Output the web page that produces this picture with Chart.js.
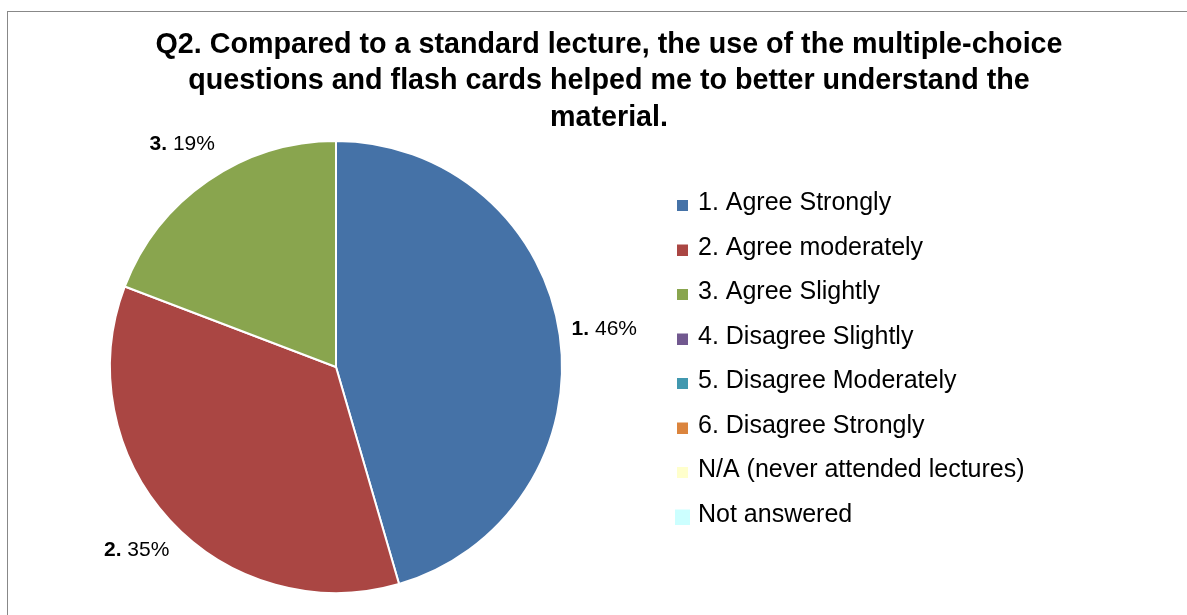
<!DOCTYPE html>
<html>
<head>
<meta charset="utf-8">
<script src="https://cdn.jsdelivr.net/npm/chart.js@4.4.0/dist/chart.umd.min.js"></script>
<style>
  html, body { margin: 0; padding: 0; background: #fff; overflow: hidden; width: 1187px; height: 615px; }
  #frame { position: absolute; left: 7px; top: 11px; width: 1400px; height: 800px; border-left: 1px solid #888; border-top: 1px solid #888; }
  #c { position: absolute; left: 0; top: 0; }
</style>
</head>
<body>
<div id="frame"></div>
<canvas id="c" width="1206" height="615"></canvas>
<script>
// ---- data ----
const titleLines = [
  'Q2. Compared to a standard lecture, the use of the multiple-choice',
  'questions and flash cards helped me to better understand the',
  'material.'
];
const categories = [
  '1. Agree Strongly',
  '2. Agree moderately',
  '3. Agree Slightly',
  '4. Disagree Slightly',
  '5. Disagree Moderately',
  '6. Disagree Strongly',
  'N/A (never attended lectures)',
  'Not answered'
];
const values = [45.5, 35.3, 19.2, 0, 0, 0, 0, 0];

// ---- styles ----
const colors = ['#4572A7', '#AA4643', '#89A54E', '#71588F', '#4198AF', '#DB843D', '#FFFFCC', '#CCFFFF'];
const legendBoxSizes = [11, 11, 11, 11, 11, 11, 11, 15];
const FONT = "'Liberation Sans', Arial, sans-serif";
const LEGEND_FONT_SIZE = 25;

function makeBox(color, size) {
  const c = document.createElement('canvas');
  c.width = size; c.height = size + 4;
  const g = c.getContext('2d');
  g.fillStyle = color;
  g.fillRect(0, 4, size, size);
  return c;
}
const boxImages = colors.map((col, i) => makeBox(col, legendBoxSizes[i]));

// spacer box to the right of the legend
const rightSpacer = {
  id: 'rightSpacer',
  beforeInit(chart) {
    const box = {
      position: 'right', weight: 2000, fullSize: false, options: { display: false },
      left: 0, top: 0, right: 0, bottom: 0, width: 0, height: 0,
      isHorizontal() { return false; },
      update(maxWidth, maxHeight) {
        const ctx = chart.ctx;
        ctx.save();
        ctx.font = LEGEND_FONT_SIZE + 'px ' + FONT;
        const w = Math.max(...categories.map(t => ctx.measureText(t).width));
        ctx.restore();
        this.width = Math.max(0, 498 - w);
        this.height = maxHeight;
      },
      draw() {}
    };
    Chart.layouts.addBox(chart, box);
  }
};

const sliceLabels = {
  id: 'sliceLabels',
  afterDatasetsDraw(chart) {
    const ctx = chart.ctx;
    const meta = chart.getDatasetMeta(0);
    const total = values.reduce((a, b) => a + b, 0);
    meta.data.forEach((arc, i) => {
      const v = values[i];
      if (!v) return;
      const p = arc.getProps(['x', 'y', 'startAngle', 'endAngle', 'outerRadius'], true);
      const mid = (p.startAngle + p.endAngle) / 2;
      const r = p.outerRadius + 45;
      const cx = p.x + Math.cos(mid) * r;
      const cy = p.y + Math.sin(mid) * r;
      const boldPart = categories[i].split(' ')[0];
      const regPart = ' ' + Math.round(v / total * 100) + '%';
      ctx.save();
      ctx.textBaseline = 'middle';
      ctx.fillStyle = '#000';
      ctx.font = 'bold 21px ' + FONT;
      const wb = ctx.measureText(boldPart).width;
      ctx.font = '21px ' + FONT;
      const wr = ctx.measureText(regPart).width;
      const x0 = cx - (wb + wr) / 2;
      ctx.font = 'bold 21px ' + FONT;
      ctx.textAlign = 'left';
      ctx.fillText(boldPart, x0, cy);
      ctx.font = '21px ' + FONT;
      ctx.fillText(regPart, x0 + wb, cy);
      ctx.restore();
    });
  }
};

const baseGen = Chart.controllers.doughnut.overrides.plugins.legend.labels.generateLabels;

new Chart(document.getElementById('c'), {
  type: 'pie',
  data: {
    labels: categories,
    datasets: [{
      data: values,
      backgroundColor: colors,
      borderColor: '#fff',
      borderWidth: 2,
      hoverBorderWidth: 2,
      hoverOffset: 0,
      offset: 0
    }]
  },
  options: {
    responsive: false,
    animation: false,
    events: [],
    layout: { padding: { left: 12, right: 0, top: 0, bottom: 21 } },
    plugins: {
      title: {
        display: true,
        text: titleLines,
        color: '#000',
        font: { family: FONT, size: 28.7, weight: 'bold', lineHeight: 36.5 / 28.7 },
        padding: { top: 26.75, bottom: 3.75 }
      },
      legend: {
        display: true,
        position: 'right',
        fullSize: false,
        align: 'start',
        title: { display: true, text: ' ', font: { size: 10, lineHeight: 1 }, padding: { top: 21.5, bottom: 0 } },
        labels: {
          color: '#000',
          font: { family: FONT, size: LEGEND_FONT_SIZE },
          usePointStyle: true,
          boxWidth: 6,
          padding: 19.5,
          generateLabels(chart) {
            return baseGen(chart).map((it, i) => Object.assign(it, { pointStyle: boxImages[i] }));
          }
        }
      },
      tooltip: { enabled: false }
    }
  },
  plugins: [rightSpacer, sliceLabels]
});
</script>
</body>
</html>
